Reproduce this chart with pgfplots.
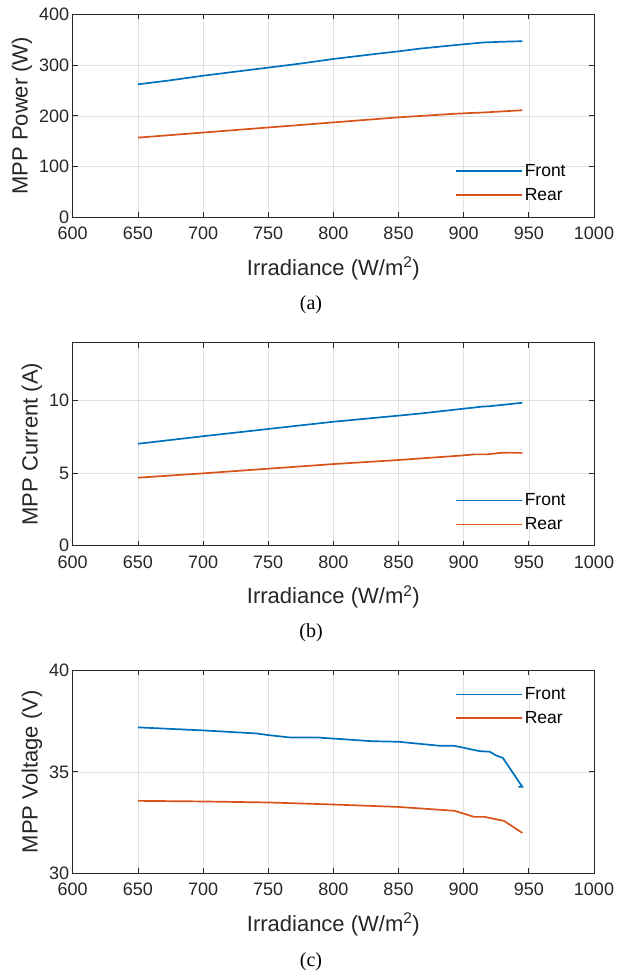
\documentclass[border=0pt]{standalone}
\usepackage{fontspec}
\setmainfont{Liberation Sans}
\newfontfamily\capfont{Liberation Serif}
\usepackage{pgfplots}
\pgfplotsset{compat=1.18}

\definecolor{mblue}{rgb}{0,0.447,0.741}
\definecolor{morange}{rgb}{0.850,0.325,0.098}
\definecolor{mgray}{rgb}{0.15,0.15,0.15}

\pgfplotsset{
  mstyle/.style={
    width=521.3pt, height=203pt, scale only axis,
    xmin=600, xmax=1000, xtick={600,650,...,1000},
    grid=major, grid style={black!12, line width=0.6pt},
    axis line style={mgray, line width=0.7pt},
    tick style={mgray, line width=0.7pt},
    tick align=inside, tick pos=both, major tick length=5pt,
    /pgf/number format/assume math mode=true,
    /pgf/number format/1000 sep={},
    ticklabel style={font=\fontsize{18}{21}\selectfont, text=mgray},
    xticklabel style={yshift=-6.5pt},
    label style={font=\fontsize{22}{26}\selectfont, text=mgray},
    xlabel style={yshift=-10pt},
    xlabel={Irradiance (W/m\textsuperscript{2})},
    legend style={draw=none, fill=none, font=\fontsize{17.5}{20}\selectfont,
      text=black, row sep=6.3pt},
    legend cell align=left,
    legend image code/.code={\draw[#1, line width=1.7pt] (0pt,0pt) -- (66pt,0pt);},
  },
  front/.style={mblue, line width=1.7pt},
  rear/.style={morange, line width=1.7pt},
}

\begin{document}
\begin{tikzpicture}
\path[use as bounding box] (0pt,0pt) rectangle (618pt,-978pt);

% (a) power
\begin{axis}[mstyle, at={(72.7pt,-217.3pt)}, anchor=south west,
  ymin=0, ymax=400, ytick={0,100,...,400}, ylabel={MPP Power (W)},
  legend style={at={(axis description cs:0.9555,0.055)}, anchor=south east}]
\addplot[front] coordinates {
 (650,262) (675,270) (700,279) (750,295) (775,303) (800,312) (836,323)
 (850,327) (865,332) (900,341) (915,344.5) (930,346) (945,347)};
\addplot[rear] coordinates {
 (650,157) (700,167) (750,177) (800,187) (850,197) (893,204)
 (905,205.5) (915,206.5) (945,211)};
\legend{Front,Rear}
\end{axis}

% (b) current
\begin{axis}[mstyle, at={(72.7pt,-545.7pt)}, anchor=south west,
  ymin=0, ymax=14, ytick={0,5,10}, ylabel={MPP Current (A)},
  legend style={at={(axis description cs:0.9555,0.051)}, anchor=south east}]
\addplot[front] coordinates {
 (650,7.03) (700,7.55) (750,8.05) (800,8.55) (850,8.97) (865,9.1)
 (900,9.45) (915,9.6) (920,9.62) (945,9.86)};
\addplot[rear] coordinates {
 (650,4.69) (700,4.99) (750,5.31) (800,5.63) (850,5.91) (900,6.23)
 (908,6.3) (918,6.3) (928,6.4) (935,6.42) (945,6.4)};
\legend{Front,Rear}
\end{axis}

% (c) voltage
\begin{axis}[mstyle, at={(72.7pt,-873.3pt)}, anchor=south west,
  ymin=30, ymax=40, ytick={30,35,40}, ylabel={MPP Voltage (V)},
  legend style={at={(axis description cs:0.9555,0.935)}, anchor=north east}]
\addplot[front] coordinates {
 (650,37.19) (700,37.04) (741,36.89) (750,36.81) (767,36.69) (788,36.69)
 (829,36.51) (850,36.48) (882,36.28) (893,36.28) (912,36.02) (920,35.99)
 (925,35.8) (930,35.69) (945,34.26) (942,34.26)};
\addplot[rear] coordinates {
 (650,33.57) (700,33.54) (750,33.49) (800,33.39) (850,33.27) (893,33.08)
 (908,32.78) (916,32.78) (925,32.66) (931,32.58) (945,31.99)};
\legend{Front,Rear}
\end{axis}

\node[font=\capfont\fontsize{20}{24}\selectfont] at (311pt,-305pt) {(a)};
\node[font=\capfont\fontsize{20}{24}\selectfont] at (311pt,-633pt) {(b)};
\node[font=\capfont\fontsize{20}{24}\selectfont] at (311pt,-962pt) {(c)};
\end{tikzpicture}
\end{document}
